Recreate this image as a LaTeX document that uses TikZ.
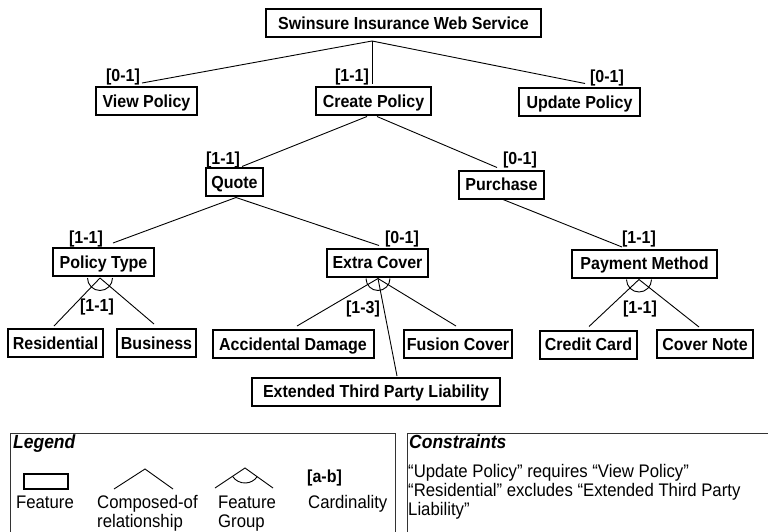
\documentclass[tikz,border=0pt]{standalone}
\usepackage{fontspec}
\setmainfont[FakeStretch=0.92]{Liberation Sans}
\usetikzlibrary{calc}
\begin{document}
\begin{tikzpicture}[x=1pt,y=-1pt,
  feat/.style={draw, line width=2pt, font=\fontsize{17.4}{20}\selectfont\bfseries,
    inner sep=0pt, text height=12.4pt, text depth=0pt, minimum height=28pt},
  card/.style={font=\fontsize{17.4}{20}\selectfont\bfseries, inner sep=0pt,
    text height=12.4pt, text depth=0pt},
  conn/.style={line width=0.9pt},
  frame/.style={draw=black!80, line width=0.9pt},
  lgtext/.style={font=\fontsize{18.2}{21}\selectfont, inner sep=0pt, anchor=base west},
  lghead/.style={font=\fontsize{19}{21}\selectfont\bfseries\itshape, inner sep=0pt, anchor=base west}
]
\useasboundingbox (0,0) rectangle (768,531);
\clip (0,0) rectangle (768,531);

% features
\node[feat, minimum width=275pt] (root) at (403.5,23) {Swinsure Insurance Web Service};
\node[feat, minimum width=101pt] (view) at (146.5,101) {View Policy};
\node[feat, minimum width=115pt] (create) at (373.5,101) {Create Policy};
\node[feat, minimum width=121pt] (update) at (579.5,102) {Update Policy};
\node[feat, minimum width=57pt] (quote) at (234.5,182) {Quote};
\node[feat, minimum width=85pt] (purchase) at (501.5,184.5) {Purchase};
\node[feat, minimum width=101pt] (ptype) at (103.5,262) {Policy Type};
\node[feat, minimum width=101pt] (extra) at (377.5,262.5) {Extra Cover};
\node[feat, minimum width=145pt] (pmethod) at (644.5,263.5) {Payment Method};
\node[feat, minimum width=95pt] (resid) at (55.5,343) {Residential};
\node[feat, minimum width=79pt] (business) at (156.5,343) {Business};
\node[feat, minimum width=161pt] (accid) at (293,344) {Accidental Damage};
\node[feat, minimum width=108pt] (fusion) at (458,344) {Fusion Cover};
\node[feat, minimum width=97pt] (credit) at (588.5,344.5) {Credit Card};
\node[feat, minimum width=96pt] (covernote) at (705,344) {Cover Note};
\node[feat, minimum width=248pt] (extended) at (376,391.5) {Extended Third Party Liability};

% junction points
\coordinate (r0) at ($(root.south)+(-31.5,3)$);
\coordinate (c0l) at ($(create.south)+(-6.5,0.5)$);
\coordinate (c0r) at ($(create.south)+(3.5,0.5)$);
\coordinate (q0) at ($(quote.south)+(1.5,0.5)$);
\coordinate (p0) at ($(purchase.south)+(1.5,0)$);
\coordinate (g1) at ($(ptype.south)+(-3.5,1)$);
\coordinate (g2) at ($(extra.south)+(0.5,1)$);
\coordinate (g3) at ($(pmethod.south)+(-5.5,1)$);

% composed-of connectors
\draw[conn] (r0) -- ($(view.north)+(-4.5,-3)$);
\draw[conn] (r0) -- ($(create.north)+(-1.5,-2.5)$);
\draw[conn] (r0) -- ($(update.north)+(5.5,-3.5)$);
\draw[conn] (c0l) -- ($(quote.north)+(7.5,-0.5)$);
\draw[conn] (c0r) -- ($(purchase.north)+(-4.5,-2)$);
\draw[conn] (q0) -- ($(ptype.north)+(9.5,-4)$);
\draw[conn] (q0) -- ($(extra.north)+(1.5,-2)$);
\draw[conn] (p0) -- ($(pmethod.north)+(-22.5,-1.5)$);

% feature groups
\draw[conn] (g1) -- ($(resid.north)+(-1.5,-2)$);
\draw[conn] (g1) -- ($(business.north)+(-2.5,-4)$);
\draw[conn] ([xshift=-12.5pt]g1) arc[start angle=180, end angle=360, radius=12.5pt];
\draw[conn] (g2) -- ($(accid.north)+(4,-3)$);
\draw[conn] (g2) -- ($(fusion.north)+(-2,-3)$);
\draw[conn] (g2) -- ($(extended.north)+(21,-0.5)$);
\draw[conn] ([xshift=-12pt]g2) arc[start angle=180, end angle=360, radius=12pt];
\draw[conn] (g3) -- ($(credit.north)+(0.5,-3)$);
\draw[conn] (g3) -- ($(covernote.north)+(-6,-2)$);
\draw[conn] ([xshift=-12.5pt]g3) arc[start angle=180, end angle=360, radius=12.5pt];

% cardinalities
\node[card] (k-view) at (123,75) {[0-1]};
\node[card] (k-create) at (352,75) {[1-1]};
\node[card] (k-update) at (607,76) {[0-1]};
\node[card] (k-quote) at (223,158) {[1-1]};
\node[card] (k-purchase) at (520,158) {[0-1]};
\node[card] (k-ptype) at (86,237) {[1-1]};
\node[card] (k-extra) at (402,237) {[0-1]};
\node[card] (k-pmethod) at (639,237) {[1-1]};
\node[card] (k-g1) at (97,305) {[1-1]};
\node[card] (k-g2) at (363,307) {[1-3]};
\node[card] (k-g3) at (640,307) {[1-1]};

% legend frame
\draw[frame] (10,433) rectangle (395,540);
\node[lghead] (lg-title) at (13,448) {Legend};
\node[draw, line width=2pt, minimum width=44pt, minimum height=15pt, inner sep=0pt] (lg-feat) at (46,481.5) {};
\node[lgtext, anchor=base] (lg-feat-t) at (45,508) {Feature};
\coordinate (lc-a) at (145,469);
\coordinate (lc-l) at (114,489);
\coordinate (lc-r) at (173,489);
\draw[conn] (lc-l) -- (lc-a) -- (lc-r);
\node[lgtext] (lg-comp1) at (97,508) {Composed-of};
\node[lgtext] (lg-comp2) at (97,527) {relationship};
\coordinate (lf-a) at (245,468);
\coordinate (lf-l) at (215,488);
\coordinate (lf-r) at (273,488);
\draw[conn] (lf-l) -- (lf-a) -- (lf-r);
\draw[conn] ([shift={(213.7:15pt)}]lf-a) arc[start angle=213.7, end angle=324.5, radius=15pt];
\node[lgtext] (lg-grp1) at (218,508) {Feature};
\node[lgtext] (lg-grp2) at (218,527) {Group};
\node[lgtext, font=\fontsize{17.4}{20}\selectfont\bfseries] (lg-card1) at (307,482) {[a-b]};
\node[lgtext] (lg-card2) at (308,508) {Cardinality};

% constraints frame
\draw[frame] (407,433) rectangle (775,540);
\node[lghead] (cs-title) at (409,448) {Constraints};
\node[lgtext] (cs-1) at (408,477) {“Update Policy” requires “View Policy”};
\node[lgtext] (cs-2) at (408,496) {“Residential” excludes “Extended Third Party};
\node[lgtext] (cs-3) at (408,515) {Liability”};
\end{tikzpicture}
\end{document}
